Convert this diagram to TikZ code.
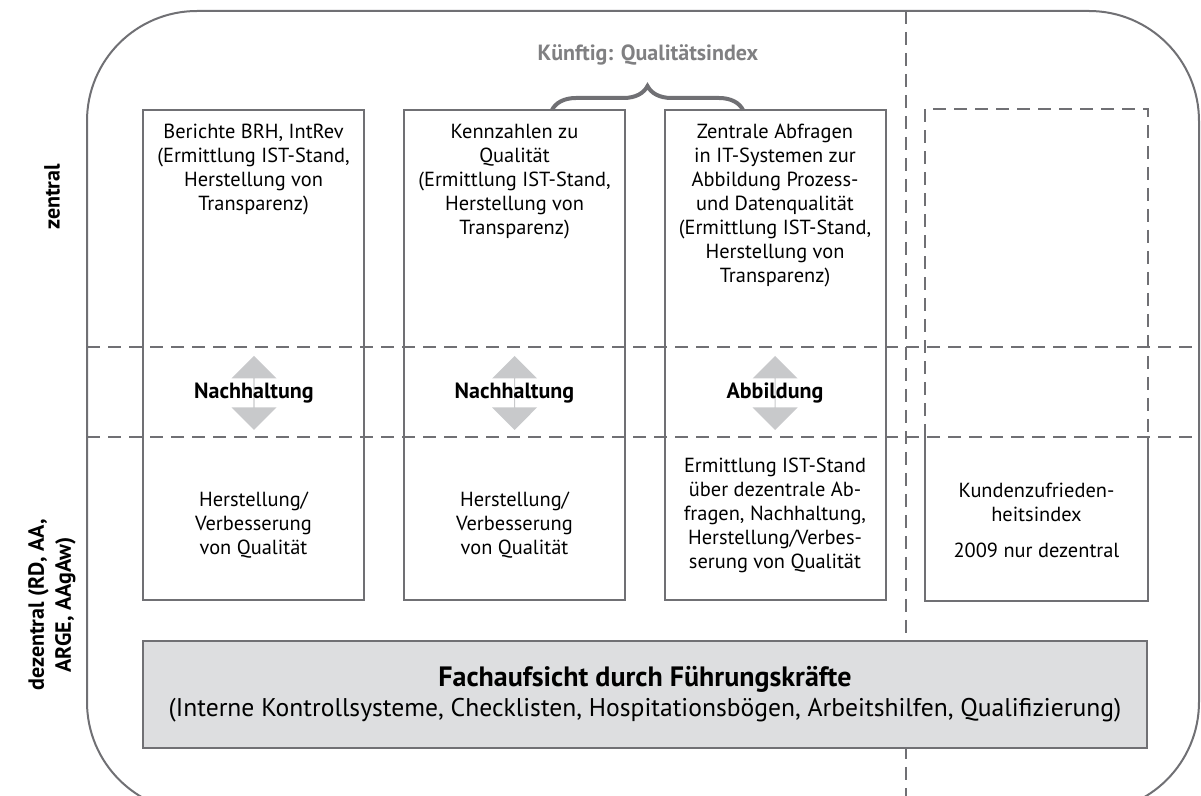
\documentclass[tikz,border=0pt]{standalone}
\usepackage{fontspec}
\setmainfont{PT Sans}
\usepackage{xcolor}
\usetikzlibrary{arrows.meta, calc, positioning, shapes.arrows, decorations.pathreplacing}
\definecolor{rahmen}{RGB}{112,112,116}
\definecolor{pfeilgrau}{RGB}{200,201,203}
\definecolor{fachgrau}{RGB}{221,222,224}
\definecolor{textgrau}{RGB}{128,128,130}
\tikzset{
  align=center,
  font=\fontsize{10.2}{12}\selectfont,
  aussen/.style={draw=rahmen, line width=1pt, rounded corners=55pt},
  trenn/.style={draw=rahmen, line width=1pt, dash pattern=on 6.5pt off 4pt},
  linie/.style={draw=rahmen, line width=1pt},
  spalte/.style={linie, minimum width=110.5pt, minimum height=245pt, inner sep=0pt},
  fachbox/.style={linie, fill=fachgrau, minimum width=502pt, minimum height=53.5pt, inner sep=0pt},
  seite/.style={font=\fontsize{11}{13.5}\selectfont\bfseries, rotate=90},
  fett/.style={font=\fontsize{11}{13}\selectfont\bfseries},
  doppelpfeil/.style={shape=double arrow, rotate=90, fill=pfeilgrau, inner sep=0pt, minimum height=37pt, minimum width=22.5pt, double arrow head extend=8.75pt},
  klammer/.style={decorate, decoration={brace, amplitude=12pt}, draw=rahmen, line width=2pt}
}

\begin{document}
\begin{tikzpicture}[x=0.5pt, y=-0.5pt]
  \useasboundingbox (0,0) rectangle (1201,796);

  \draw[aussen] (87,11) rectangle (1199,812);
  \draw[trenn] (87,347) -- (1199,347);
  \draw[trenn] (87,437) -- (1199,437);
  \draw[trenn] (906,11) -- (906,800);

  \node[seite] (zentral) at (52,197) {zentral};
  \node[seite] (dezentral) at (52,605) {dezentral (RD, AA,\\ARGE, AAgAw)};

  \node[spalte] (b1) at (253.5,355) {};
  \node[spalte] (b2) at (514.5,355) {};
  \node[spalte] (b3) at (775,355) {};
  \node[spalte, draw=none] (b4) at (1036.5,355) {};
  \coordinate (k) at (0,437);
  \draw[trenn] (k -| b4.west) -- (b4.north west) -- (b4.north east) -- (k -| b4.east);
  \draw[linie] (k -| b4.west) -- (b4.south west) -- (b4.south east) -- (k -| b4.east);

  \node[below=4pt of b1.north] (b1oben) {Berichte BRH, IntRev\\(Ermittlung IST-Stand,\\Herstellung von\\Transparenz)};
  \node[below=4pt of b2.north] (b2oben) {Kennzahlen zu\\Qualität\\(Ermittlung IST-Stand,\\Herstellung von\\Transparenz)};
  \node[below=4pt of b3.north] (b3oben) {Zentrale Abfragen\\in IT-Systemen zur\\Abbildung Prozess-\\und Datenqualität\\(Ermittlung IST-Stand,\\Herstellung von\\Transparenz)};

  \node[doppelpfeil] (p1) at (254,393) {};
  \node[doppelpfeil] (p2) at (514.5,393) {};
  \node[doppelpfeil] (p3) at (775,393) {};
  \node[fett] (n1) at (p1) {Nachhaltung};
  \node[fett] (n2) at (p2) {Nachhaltung};
  \node[fett] (n3) at (p3) {Abbildung};

  \node (b1unten) at (253.5,525) {Herstellung/\\Verbesserung\\von Qualität};
  \node (b2unten) at (514.5,525) {Herstellung/\\Verbesserung\\von Qualität};
  \node (b3unten) at (775,515) {Ermittlung IST-Stand\\über dezentrale Ab-\\fragen, Nachhaltung,\\Herstellung/Verbes-\\serung von Qualität};
  \node (b4unten) at (1036.5,520) {Kundenzufrieden-\\heitsindex\\[6pt]2009 nur dezentral};

  % Qualitaetsindex
  \coordinate (kl) at (552,110);
  \coordinate (kr) at (743,110);
  \draw[klammer] (kl) -- (kr);
  \node[fett, text=textgrau] (kuenftig) at (648,55) {Künftig: Qualitätsindex};

  \node[fachbox] (fach) at (645,694.5) {};
  \node[font=\fontsize{12.8}{15}\selectfont] (fachtext) at (fach.center)
    {\textbf{\fontsize{14}{15}\selectfont Fachaufsicht durch Führungskräfte}\\(Interne Kontrollsysteme, Checklisten, Hospitationsbögen, Arbeitshilfen, Qualifizierung)};
\end{tikzpicture}
\end{document}
